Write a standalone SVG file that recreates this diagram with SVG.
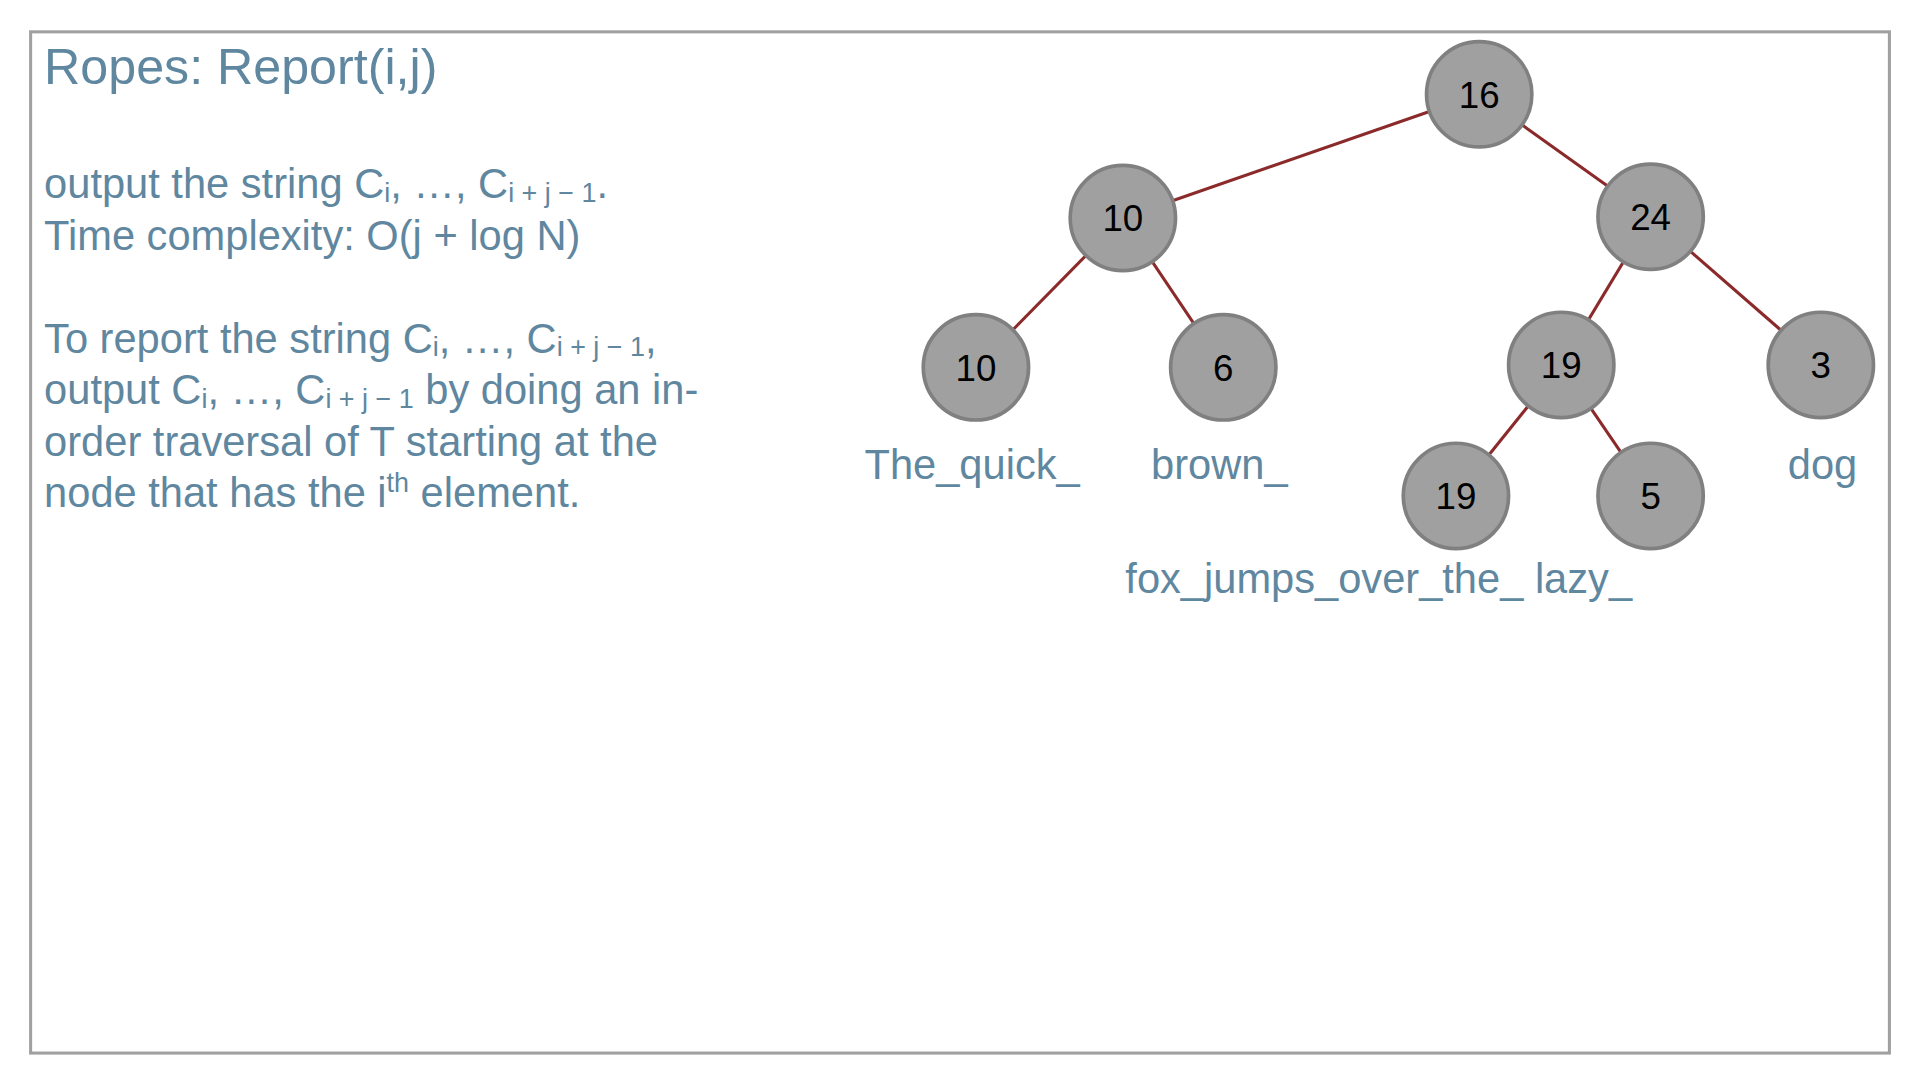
<svg xmlns="http://www.w3.org/2000/svg" width="1920" height="1080" viewBox="0 0 1920 1080">
<style>
.t{font-family:"Liberation Sans",Arial,sans-serif;fill:#5f87a0}
.b{font-size:34px}
.s{font-size:22px}
.n circle{fill:#a0a0a0;stroke:#808080;stroke-width:3}
.n text{font-family:"Liberation Sans",Arial,sans-serif;font-size:30px;fill:#000;text-anchor:middle}
#edges line{stroke:#8b2a2a;stroke-width:2.5}
</style>
<rect width="1920" height="1080" fill="#fff"/>
<g transform="scale(1.2245)">
<rect x="25" y="26" width="1518" height="834" fill="none" stroke="#a0a0a0" stroke-width="2.5"/>
<text class="t" x="36" y="69" font-size="41">Ropes: Report(i,j)</text>
<text class="t b" x="36" y="162">output the string C<tspan class="s" dy="3">i</tspan><tspan dy="-3">, …, C</tspan><tspan class="s" dy="3">i + j − 1</tspan><tspan dy="-3">.</tspan></text>
<text class="t b" x="36" y="204">Time complexity: O(j + log N)</text>
<text class="t b" x="36" y="288">To report the string C<tspan class="s" dy="3">i</tspan><tspan dy="-3">, …, C</tspan><tspan class="s" dy="3">i + j − 1</tspan><tspan dy="-3">,</tspan></text>
<text class="t b" x="36" y="330">output C<tspan class="s" dy="3">i</tspan><tspan dy="-3">, …, C</tspan><tspan class="s" dy="3">i + j − 1</tspan><tspan dy="-3"> by doing an in-</tspan></text>
<text class="t b" x="36" y="372">order traversal of T starting at the</text>
<text class="t b" x="36" y="414">node that has the i<tspan class="s" dy="-12">th</tspan><tspan dy="12"> element.</tspan></text>
<g id="edges">
<line x1="1208" y1="77" x2="917" y2="178"/>
<line x1="1208" y1="77" x2="1348" y2="177"/>
<line x1="917" y1="178" x2="797" y2="300"/>
<line x1="917" y1="178" x2="999" y2="300"/>
<line x1="1348" y1="177" x2="1275" y2="298"/>
<line x1="1348" y1="177" x2="1487" y2="298"/>
<line x1="1275" y1="298" x2="1189" y2="405"/>
<line x1="1275" y1="298" x2="1348" y2="405"/>
</g>
<g id="n16" class="n"><circle cx="1208" cy="77" r="43"/><text x="1208" y="88">16</text></g>
<g id="n10a" class="n"><circle cx="917" cy="178" r="43"/><text x="917" y="189">10</text></g>
<g id="n24" class="n"><circle cx="1348" cy="177" r="43"/><text x="1348" y="188">24</text></g>
<g id="n10b" class="n"><circle cx="797" cy="300" r="43"/><text x="797" y="311">10</text></g>
<g id="n6" class="n"><circle cx="999" cy="300" r="43"/><text x="999" y="311">6</text></g>
<g id="n19a" class="n"><circle cx="1275" cy="298" r="43"/><text x="1275" y="309">19</text></g>
<g id="n3" class="n"><circle cx="1487" cy="298" r="43"/><text x="1487" y="309">3</text></g>
<g id="n19b" class="n"><circle cx="1189" cy="405" r="43"/><text x="1189" y="416">19</text></g>
<g id="n5" class="n"><circle cx="1348" cy="405" r="43"/><text x="1348" y="416">5</text></g>
<text class="t b" x="706" y="391">The_quick_</text>
<text class="t b" x="940" y="391">brown_</text>
<text class="t b" x="1460" y="391">dog</text>
<text class="t b" x="919" y="484">fox_jumps_over_the_ lazy_</text>
</g>
</svg>
